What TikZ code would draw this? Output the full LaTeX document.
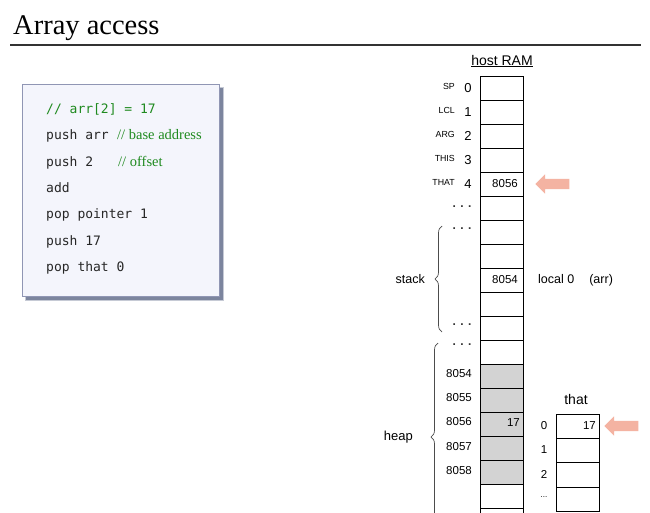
\documentclass[tikz,border=0pt]{standalone}
\usepackage{fontspec}
\setmainfont{Liberation Serif}
\setsansfont{Liberation Sans}
\setmonofont{DejaVu Sans Mono}
\usetikzlibrary{shapes.arrows,decorations.pathreplacing}
\definecolor{codegreen}{HTML}{1F8A1F}
\definecolor{boxfill}{HTML}{F4F5FC}
\definecolor{boxline}{HTML}{9096B4}
\definecolor{shadowc}{HTML}{5E6888}
\definecolor{arrowc}{HTML}{F4B3A2}
\definecolor{heapgray}{HTML}{D3D3D3}
\tikzset{
  cell/.style={draw=black, line width=0.8pt, minimum width=43pt, minimum height=24pt, inner sep=0pt, outer sep=0pt},
  lbl/.style={font=\sffamily\fontsize{13}{15}\selectfont, inner sep=0pt},
  reg/.style={font=\sffamily\fontsize{8.8}{10}\selectfont, inner sep=0pt, anchor=east},
  val/.style={font=\sffamily\fontsize{11.5}{13}\selectfont, inner sep=0pt, anchor=east},
  codeline/.style={font=\ttfamily\fontsize{13}{15}\selectfont, text=black!85, inner sep=0pt, anchor=base west},
  comment/.style={font=\rmfamily\fontsize{14.5}{16}\selectfont, text=codegreen, inner sep=0pt, anchor=base west},
  pinkarrow/.style={single arrow, fill=arrowc, draw=none, minimum height=34pt, minimum width=19pt, inner sep=5pt, single arrow head extend=4.5pt, shape border rotate=180},
  dotsl/.style={font=\sffamily\bfseries\fontsize{12}{14}\selectfont, text=black!80, inner sep=0pt},
  bracestyle/.style={decorate, decoration={brace, amplitude=7pt, mirror}, draw=black!70, line width=0.7pt}
}
\begin{document}
\begin{tikzpicture}[x=1pt,y=-1pt]
\useasboundingbox (0,0) rectangle (650,512);
\clip (0,0) rectangle (650,512);
\fill[white] (0,0) rectangle (650,512);
% title
\node[font=\rmfamily\fontsize{28.5}{30}\selectfont, anchor=base west, inner sep=0pt] (title) at (13,34) {Array access};
\coordinate (rulel) at (10,45);
\coordinate (ruler) at (641,45);
\draw[line width=1.6pt, black!80] (rulel) -- (ruler);
% code box
\fill[shadowc, opacity=0.35] (25,87) rectangle (224,301);
\fill[shadowc, opacity=0.7] (26,88) rectangle (223,300);
\node[draw=boxline, fill=boxfill, line width=0.8pt, minimum width=197pt, minimum height=212pt, anchor=north west, inner sep=0pt] (codebox) at (22,84) {};
\node[codeline, text=codegreen] (c1) at (46,113) {// arr[2] = 17};
\node[codeline] (c2) at (46,139.5) {push arr};
\node[comment] (m2) at (117,139.5) {// base address};
\node[codeline] (c3) at (46,166) {push 2};
\node[comment] (m3) at (118,166) {// offset};
\node[codeline] (c4) at (46,192) {add};
\node[codeline] (c5) at (46,218.5) {pop pointer 1};
\node[codeline] (c6) at (46,245) {push 17};
\node[codeline] (c7) at (46,271) {pop that 0};
% host RAM
\node[font=\sffamily\fontsize{14}{16}\selectfont, inner sep=0pt] (hostram) at (502,61) {\underline{host RAM}};
\foreach \k in {0,...,18}{
  \pgfmathsetmacro{\yc}{76+24*\k+12}
  \ifnum\k>11 \ifnum\k<17
    \node[cell, fill=heapgray] (r\k) at (501.5,\yc) {};
  \else
    \node[cell] (r\k) at (501.5,\yc) {};
  \fi\else
    \node[cell] (r\k) at (501.5,\yc) {};
  \fi
}
% register labels
\node[reg] (lsp) at (455,86) {SP};
\node[reg] (llcl) at (455,110) {LCL};
\node[reg] (larg) at (455,134) {ARG};
\node[reg] (lthis) at (455,158) {THIS};
\node[reg] (lthat) at (455,182) {THAT};
\foreach \k in {0,...,4}{
  \pgfmathsetmacro{\yc}{76+24*\k+12}
  \node[lbl] (n\k) at (468,\yc) {\k};
}
\node[dotsl] (d5) at (462,207) {. . .};
\node[dotsl] (d6) at (462,229) {. . .};
\node[dotsl] (d10) at (462,325) {. . .};
\node[dotsl] (d11) at (462,345) {. . .};
% values
\node[val] (v4) at (518,184) {8056};
\node[val] (v8) at (518,280) {8054};
\node[val] (v14) at (520,423) {17};
\node[lbl, anchor=west, font=\sffamily\fontsize{12.5}{14}\selectfont] (loc) at (538,280) {local 0\hspace{1.2em}(arr)};
% heap addresses
\node[val] (a12) at (472,374) {8054};
\node[val] (a13) at (472,398) {8055};
\node[val] (a14) at (472,422) {8056};
\node[val] (a15) at (472,447) {8057};
\node[val] (a16) at (472,471) {8058};
% braces
\coordinate (sb1) at (442,226);
\coordinate (sb2) at (442,332);
\draw[bracestyle] (sb1) -- (sb2);
\node[font=\sffamily\fontsize{12.5}{14}\selectfont, inner sep=0pt, anchor=east] (stacklbl) at (425,279) {stack};
\coordinate (hb1) at (438,343);
\coordinate (hb2) at (438,531);
\draw[bracestyle] (hb1) -- (hb2);
\node[font=\sffamily\fontsize{13}{15}\selectfont, inner sep=0pt, anchor=east] (heaplbl) at (413,437) {heap};
% that array
\node[font=\sffamily\fontsize{14}{16}\selectfont, inner sep=0pt] (thatlbl) at (576,399) {that};
\foreach \k in {0,...,3}{
  \pgfmathsetmacro{\yc}{414+24.3*\k+12.15}
  \node[cell, minimum height=24.3pt] (t\k) at (577.5,\yc) {};
}
\node[val] (tv0) at (596,426) {17};
\node[font=\sffamily\fontsize{11.5}{13}\selectfont, inner sep=0pt] (i0) at (544,426) {0};
\node[font=\sffamily\fontsize{11.5}{13}\selectfont, inner sep=0pt] (i1) at (544,450) {1};
\node[font=\sffamily\fontsize{11.5}{13}\selectfont, inner sep=0pt] (i2) at (544,474) {2};
\node[font=\sffamily\fontsize{8}{9}\selectfont, inner sep=0pt] (i3) at (544,497) {...};
% pink arrows
\node[pinkarrow] (arr1) at (555,184) {};
\node[pinkarrow] (arr2) at (624,426) {};
\end{tikzpicture}
\end{document}
